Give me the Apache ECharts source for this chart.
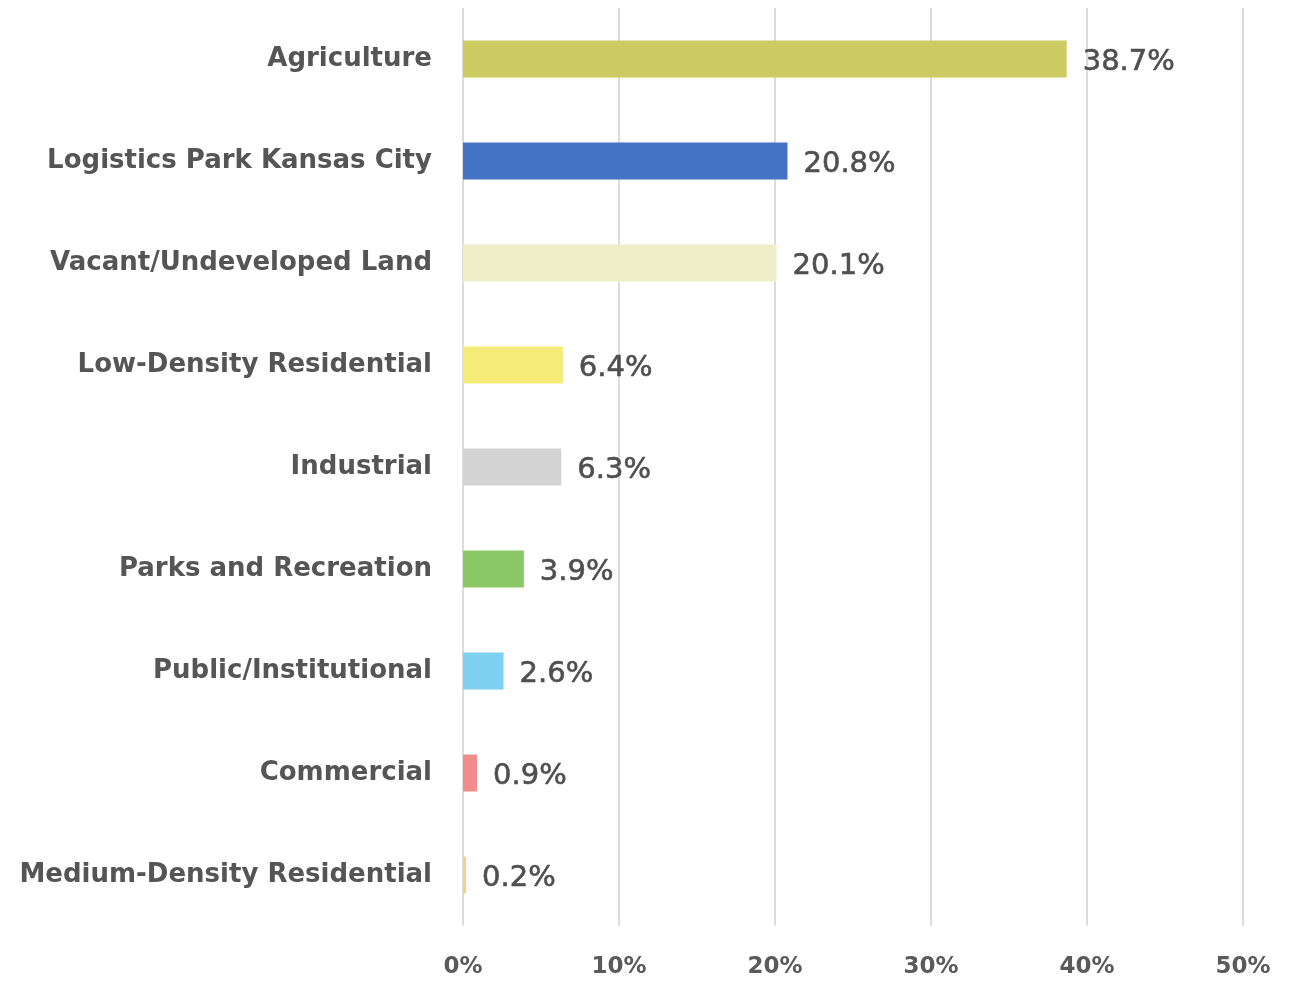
<!DOCTYPE html>
<html>
<head>
<meta charset="utf-8">
<script src="https://cdn.jsdelivr.net/npm/echarts@6/dist/echarts.min.js"></script>
<style>
html,body{margin:0;padding:0;background:#fff;}
#chart{width:1292px;height:981px;}
</style>
</head>
<body>
<div id="chart"></div>
<script>
const categories = ["Agriculture","Logistics Park Kansas City","Vacant/Undeveloped Land","Low-Density Residential","Industrial","Parks and Recreation","Public/Institutional","Commercial","Medium-Density Residential"];
const values = [38.7, 20.8, 20.1, 6.4, 6.3, 3.9, 2.6, 0.9, 0.2];
const colors = ["#CDCC63","#4472C4","#EEEEC8","#F5EB78","#D3D3D3","#8BC866","#7DD0EF","#F08C8C","#F5D08A"];
const xTicks = [0, 10, 20, 30, 40, 50];

const chart = echarts.init(document.getElementById('chart'), null, {renderer:'canvas'});
chart.setOption({
  animation:false,
  backgroundColor:'#ffffff',
  grid:{left:463, right:49, top:8, bottom:55, containLabel:false},
  xAxis:{
    type:'value', min:xTicks[0], max:xTicks[xTicks.length-1], interval:10,
    axisLine:{show:false}, axisTick:{show:false},
    splitLine:{show:true, lineStyle:{color:'#dcdcdc', width:2}},
    axisLabel:{formatter:v=>v+'%', color:'#5a5a5a', fontFamily:'"DejaVu Sans", sans-serif', fontWeight:'bold', fontSize:23, margin:30}
  },
  yAxis:{
    type:'category', data:categories, inverse:true,
    axisLine:{show:false}, axisTick:{show:false},
    axisLabel:{color:'#555555', fontFamily:'"DejaVu Sans", sans-serif', fontWeight:'bold', fontSize:26, margin:31}
  },
  series:[{
    type:'bar',
    data:values.map((v,i)=>({value:v, itemStyle:{color:colors[i]}})),
    barWidth:37,
    label:{show:true, position:'right', distance:16, offset:[0,3], formatter:p=>p.value+'%', color:'#4f4f4f', fontFamily:'"DejaVu Sans", sans-serif', fontWeight:'normal', fontSize:29, textBorderColor:'#4f4f4f', textBorderWidth:0.6}
  }]
});
</script>
</body>
</html>
